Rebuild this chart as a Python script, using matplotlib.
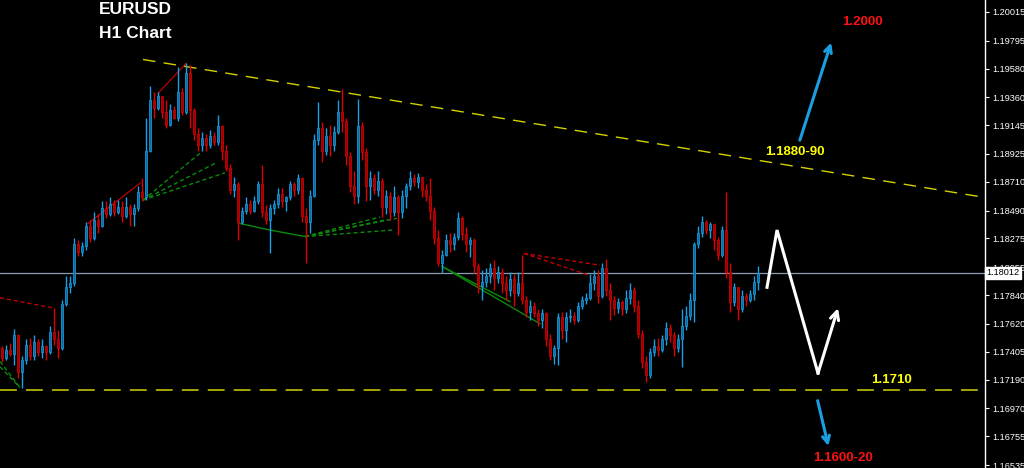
import matplotlib
matplotlib.use("Agg")
import matplotlib.pyplot as plt
import numpy as np

# ---------------- data (EURUSD H1 candles) ----------------
first_open = 1.1743
closes = [
    1.1736, 1.1742, 1.1739, 1.1753, 1.1725, 1.1734, 1.1746, 1.1737, 1.1748, 1.1740,
    1.1745, 1.1740, 1.1756, 1.1750, 1.1743, 1.1777, 1.1790, 1.1793, 1.1823, 1.1817,
    1.1822, 1.1837, 1.1828, 1.1842, 1.1837, 1.1851, 1.1846, 1.1854, 1.1848, 1.1852,
    1.1845, 1.1852, 1.1846, 1.1851, 1.1863, 1.1859, 1.1895, 1.1934, 1.1928, 1.1937,
    1.1925, 1.1915, 1.1926, 1.1920, 1.1940, 1.1925, 1.1955, 1.1926, 1.1908, 1.1899,
    1.1905, 1.1899, 1.1906, 1.1902, 1.1914, 1.1895, 1.1882, 1.1865, 1.1869, 1.1840,
    1.1849, 1.1854, 1.1849, 1.1856, 1.1869, 1.1848, 1.1842, 1.1851, 1.1854, 1.1862,
    1.1856, 1.1859, 1.1869, 1.1865, 1.1874, 1.1845, 1.1840, 1.1860, 1.1903, 1.1912,
    1.1895, 1.1906, 1.1899, 1.1909, 1.1925, 1.1918, 1.1891, 1.1868, 1.1860, 1.1914,
    1.1894, 1.1868, 1.1874, 1.1865, 1.1872, 1.1852, 1.1860, 1.1848, 1.1859, 1.1848,
    1.1860, 1.1868, 1.1874, 1.1871, 1.1875, 1.1865, 1.1860, 1.1849, 1.1828, 1.1809,
    1.1815, 1.1826, 1.1823, 1.1829, 1.1843, 1.1831, 1.1823, 1.1826, 1.1806, 1.1791,
    1.1794, 1.1799, 1.1805, 1.1797, 1.1802, 1.1793, 1.1788, 1.1796, 1.1786, 1.1793,
    1.1780, 1.1771, 1.1776, 1.1770, 1.1765, 1.1770, 1.1750, 1.1737, 1.1743, 1.1767,
    1.1757, 1.1767, 1.1768, 1.1765, 1.1776, 1.1780, 1.1782, 1.1793, 1.1799, 1.1783,
    1.1805, 1.1788, 1.1780, 1.1774, 1.1779, 1.1773, 1.1782, 1.1788, 1.1776, 1.1754,
    1.1733, 1.1723, 1.1740, 1.1745, 1.1742, 1.1750, 1.1759, 1.1753, 1.1743, 1.1750,
    1.1760, 1.1768, 1.1780, 1.1823, 1.1832, 1.1840, 1.1834, 1.1839, 1.1826, 1.1815,
    1.1834, 1.1802, 1.1779, 1.1790, 1.1773, 1.1783, 1.1780, 1.1785, 1.1794, 1.18012,
]
highs = [
    1.1745, 1.1746, 1.1747, 1.1758, 1.1754, 1.1737, 1.1750, 1.1751, 1.1753, 1.1750,
    1.1750, 1.1746, 1.1760, 1.1774, 1.1757, 1.1780, 1.1799, 1.1799, 1.1828, 1.1826,
    1.1825, 1.1840, 1.1842, 1.1848, 1.1846, 1.1856, 1.1856, 1.1859, 1.1857, 1.1857,
    1.1856, 1.1859, 1.1854, 1.1854, 1.1868, 1.1874, 1.1920, 1.1945, 1.1940, 1.1940,
    1.1937, 1.1934, 1.1931, 1.1929, 1.1959, 1.1943, 1.1962, 1.1961, 1.1928, 1.1912,
    1.1909, 1.1908, 1.1911, 1.1909, 1.1922, 1.1915, 1.1899, 1.1885, 1.1875, 1.1871,
    1.1852, 1.1859, 1.1857, 1.1860, 1.1872, 1.1884, 1.1853, 1.1854, 1.1857, 1.1866,
    1.1866, 1.1860, 1.1872, 1.1871, 1.1877, 1.1875, 1.1851, 1.1865, 1.1908, 1.1932,
    1.1917, 1.1912, 1.1915, 1.1914, 1.1934, 1.1942, 1.1920, 1.1894, 1.1879, 1.1935,
    1.1917, 1.1897, 1.1879, 1.1877, 1.1879, 1.1874, 1.1865, 1.1863, 1.1868, 1.1861,
    1.1865, 1.1870, 1.1879, 1.1877, 1.1878, 1.1874, 1.1869, 1.1874, 1.1852, 1.1834,
    1.1819, 1.1831, 1.1832, 1.1832, 1.1848, 1.1845, 1.1836, 1.1829, 1.1828, 1.1809,
    1.1803, 1.1805, 1.1809, 1.1811, 1.1806, 1.1805, 1.1799, 1.1802, 1.1800, 1.1802,
    1.1815, 1.1783, 1.1780, 1.1779, 1.1773, 1.1773, 1.1771, 1.1754, 1.1746, 1.1770,
    1.1771, 1.1771, 1.1773, 1.1771, 1.1779, 1.1783, 1.1786, 1.1800, 1.1803, 1.1803,
    1.1809, 1.1812, 1.1793, 1.1783, 1.1782, 1.1780, 1.1788, 1.1793, 1.1790, 1.1780,
    1.1757, 1.1737, 1.1743, 1.1750, 1.1751, 1.1753, 1.1763, 1.1762, 1.1756, 1.1754,
    1.1773, 1.1776, 1.1786, 1.1825, 1.1837, 1.1845, 1.1842, 1.1840, 1.1839, 1.1829,
    1.1837, 1.1863, 1.1809, 1.1793, 1.1790, 1.1788, 1.1786, 1.1788, 1.1799, 1.1806,
]
lows = [
    1.1733, 1.1734, 1.1737, 1.1730, 1.1720, 1.1713, 1.1731, 1.1734, 1.1734, 1.1737,
    1.1736, 1.1734, 1.1739, 1.1746, 1.1736, 1.1742, 1.1776, 1.1786, 1.1791, 1.1814,
    1.1814, 1.1819, 1.1825, 1.1826, 1.1832, 1.1836, 1.1843, 1.1845, 1.1845, 1.1846,
    1.1840, 1.1843, 1.1837, 1.1837, 1.1849, 1.1856, 1.1857, 1.1894, 1.1920, 1.1926,
    1.1920, 1.1912, 1.1914, 1.1919, 1.1918, 1.1922, 1.1923, 1.1912, 1.1903, 1.1895,
    1.1895, 1.1895, 1.1897, 1.1899, 1.1899, 1.1888, 1.1879, 1.1862, 1.1859, 1.1826,
    1.1839, 1.1846, 1.1846, 1.1848, 1.1854, 1.1844, 1.1839, 1.1816, 1.1846, 1.1851,
    1.1852, 1.1849, 1.1857, 1.1860, 1.1862, 1.1840, 1.1809, 1.1832, 1.1859, 1.1899,
    1.1886, 1.1892, 1.1891, 1.1895, 1.1908, 1.1909, 1.1884, 1.1863, 1.1854, 1.1855,
    1.1888, 1.1856, 1.1857, 1.1862, 1.1860, 1.1844, 1.1846, 1.1842, 1.1845, 1.1830,
    1.1843, 1.1851, 1.1865, 1.1868, 1.1866, 1.1859, 1.1856, 1.1842, 1.1823, 1.1806,
    1.1801, 1.1814, 1.1817, 1.1819, 1.1826, 1.1826, 1.1817, 1.1813, 1.1801, 1.1786,
    1.1780, 1.1790, 1.1793, 1.1788, 1.1793, 1.1786, 1.1780, 1.1783, 1.1776, 1.1783,
    1.1777, 1.1767, 1.1765, 1.1767, 1.1760, 1.1759, 1.1745, 1.1734, 1.1731, 1.1730,
    1.1750, 1.1748, 1.1763, 1.1762, 1.1763, 1.1773, 1.1777, 1.1780, 1.1788, 1.1778,
    1.1782, 1.1783, 1.1765, 1.1769, 1.1770, 1.1769, 1.1770, 1.1777, 1.1771, 1.1751,
    1.1728, 1.1717, 1.1720, 1.1737, 1.1737, 1.1740, 1.1746, 1.1748, 1.1737, 1.1740,
    1.1729, 1.1757, 1.1765, 1.1763, 1.1820, 1.1829, 1.1831, 1.1828, 1.1819, 1.1811,
    1.1813, 1.1797, 1.1771, 1.1776, 1.1765, 1.1771, 1.1776, 1.1779, 1.1780, 1.1788,
]
ytick_values = [1.20015, 1.19795, 1.19580, 1.19360, 1.19145, 1.18925, 1.18710,
                1.18490, 1.18275, 1.18055, 1.17840, 1.17620, 1.17405, 1.17190,
                1.16970, 1.16755, 1.16535]
current_price = 1.18012
support_level = 1.1711
trend_x = [35.25, 245.75]
trend_y = [1.1965, 1.1859]

# ---------------- figure ----------------
W, H = 1024, 468
fig = plt.figure(figsize=(W / 100, H / 100), dpi=100, facecolor="black")
ax = fig.add_axes([0, 0, 985 / W, 1])
ax.set_facecolor("black")

n = len(closes)
xs = np.arange(n)
c = np.array(closes)
o = np.concatenate([[first_open], c[:-1]])
h = np.maximum.reduce([np.array(highs), o, c])
l = np.minimum.reduce([np.array(lows), o, c])
up = c >= o

UP_EDGE, UP_FACE = "#1aa0e8", "#0b6aa0"
DN_EDGE, DN_FACE = "#e00000", "#9a0000"

ax.vlines(xs[up], l[up], h[up], color=UP_EDGE, lw=1.0, zorder=3)
ax.vlines(xs[~up], l[~up], h[~up], color=DN_EDGE, lw=1.0, zorder=3)
body_bottom = np.minimum(o, c)
body_h = np.maximum(np.abs(c - o), 0.00003)
ax.bar(xs[up], body_h[up], bottom=body_bottom[up], width=0.65,
       color=UP_FACE, edgecolor=UP_EDGE, lw=0.5, zorder=4)
ax.bar(xs[~up], body_h[~up], bottom=body_bottom[~up], width=0.65,
       color=DN_FACE, edgecolor=DN_EDGE, lw=0.5, zorder=4)

# indicator lines (zigzag / fan)
GREEN = "#0a8a0a"
RED = "#c00000"
ax.plot([-0.5, 13], [1.1782, 1.1774], color=RED, lw=1, ls=(0, (3, 2)), zorder=2)
ax.plot([21.5, 34.5], [1.1839, 1.1870], color=RED, lw=0.9, zorder=2)
ax.plot([39, 46], [1.1939, 1.1962], color=RED, lw=0.9, zorder=2)
ax.plot([130.5, 149.5], [1.1816, 1.1807], color=RED, lw=1, ls=(0, (3, 2)), zorder=2)
ax.plot([130.5, 147], [1.1816, 1.1799], color=RED, lw=1, ls=(0, (3, 2)), zorder=2)

for ye in [1.1729, 1.1733]:
    ax.plot([-0.5, 4.5], [ye, 1.1713], color=GREEN, lw=1, ls=(0, (3, 2)), zorder=2)
for xe, ye in [(49.5, 1.1893), (53.75, 1.1886), (55.75, 1.1878)]:
    ax.plot([35.25, xe], [1.1857, ye], color=GREEN, lw=1, ls=(0, (3, 2)), zorder=2)
ax.plot([59.5, 67, 75.75], [1.1839, 1.1834, 1.1829], color=GREEN, lw=1, zorder=2)
for xe, ye in [(94.5, 1.1844), (96.25, 1.1842), (97.75, 1.1834), (98.75, 1.1843)]:
    ax.plot([75.75, xe], [1.1829, ye], color=GREEN, lw=1, ls=(0, (3, 2)), zorder=2)
ax.plot([110, 127], [1.1806, 1.1779], color=GREEN, lw=1, zorder=2)
ax.plot([110, 134.5], [1.1806, 1.1762], color=GREEN, lw=1, zorder=2)

# trendline and support
YEL = "#d2d200"
ax.plot(trend_x, trend_y, color=YEL, lw=1, ls=(0, (9, 6)), zorder=2)
ax.axhline(support_level, color=YEL, lw=1.1, ls=(0, (11, 6)), zorder=2)

# current price line
ax.axhline(current_price, color="#8a9bb0", lw=0.9, zorder=1)

# scenario arrows
BLUE = "#1a9fe2"
ax.annotate("", xy=(207.5, 1.1980), xytext=(199.25, 1.1901),
            arrowprops=dict(arrowstyle="->,head_length=0.5,head_width=0.25",
                            color=BLUE, lw=2.2), zorder=6)
ax.annotate("", xy=(206.75, 1.1666), xytext=(203.75, 1.1705),
            arrowprops=dict(arrowstyle="->,head_length=0.5,head_width=0.25",
                            color=BLUE, lw=2.2), zorder=6)
zz_x = [191.25, 193.75, 204, 209]
zz_y = [1.1790, 1.1834, 1.1724, 1.1774]
ax.plot(zz_x[:3], zz_y[:3], color="white", lw=2.2, solid_joinstyle="miter", zorder=6)
ax.annotate("", xy=(zz_x[3], zz_y[3]), xytext=(zz_x[2], zz_y[2]),
            arrowprops=dict(arrowstyle="->,head_length=0.6,head_width=0.3",
                            color="white", lw=2.2, shrinkA=0, shrinkB=0), zorder=6)

# labels
lab_font = dict(family="Liberation Sans", fontweight="bold", fontsize=9.5)
ax.text(215, 1.1994, "1.2000", color="#ff1010", ha="center", va="center", **lab_font)
ax.text(198.25, 1.1894, "1.1880-90", color="#ffff00", ha="center", va="center", **lab_font)
ax.text(222.5, 1.1719, "1.1710", color="#ffff00", ha="center", va="center", **lab_font)
ax.text(210.25, 1.1659, "1.1600-20", color="#ff1010", ha="center", va="center", **lab_font)

fig.text(135 / W, 1 - 9 / H, "EURUSD", color="white", ha="center", va="center",
         family="Liberation Sans", fontweight="bold", fontsize=12.5)
fig.text(135 / W, 1 - 33 / H, "H1 Chart", color="white", ha="center", va="center",
         family="Liberation Sans", fontweight="bold", fontsize=12.5)

# axes
ax.set_xlim(-0.5, 245.75)
ax.set_ylim(1.16512, 1.20107)
for s in ["left", "top", "bottom"]:
    ax.spines[s].set_visible(False)
ax.spines["right"].set_color("white")
ax.spines["right"].set_linewidth(1)
ax.set_xticks([])
ax.set_yticks(ytick_values)
ax.set_yticklabels([f"{v:.5f}" for v in ytick_values], family="Liberation Sans")
ax.tick_params(axis="y", left=False, labelleft=False, right=True, labelright=True,
               colors="white", labelsize=6.6, length=3, width=0.8, pad=2)

ax.text(1.0015, current_price, f"{current_price:.5f}", transform=ax.get_yaxis_transform(),
        ha="left", va="center", color="black", fontsize=6.6, family="Liberation Sans",
        bbox=dict(boxstyle="square,pad=0.15", fc="white", ec="white"), zorder=10,
        clip_on=False)

fig.savefig("out.png", dpi=100, facecolor="black")
